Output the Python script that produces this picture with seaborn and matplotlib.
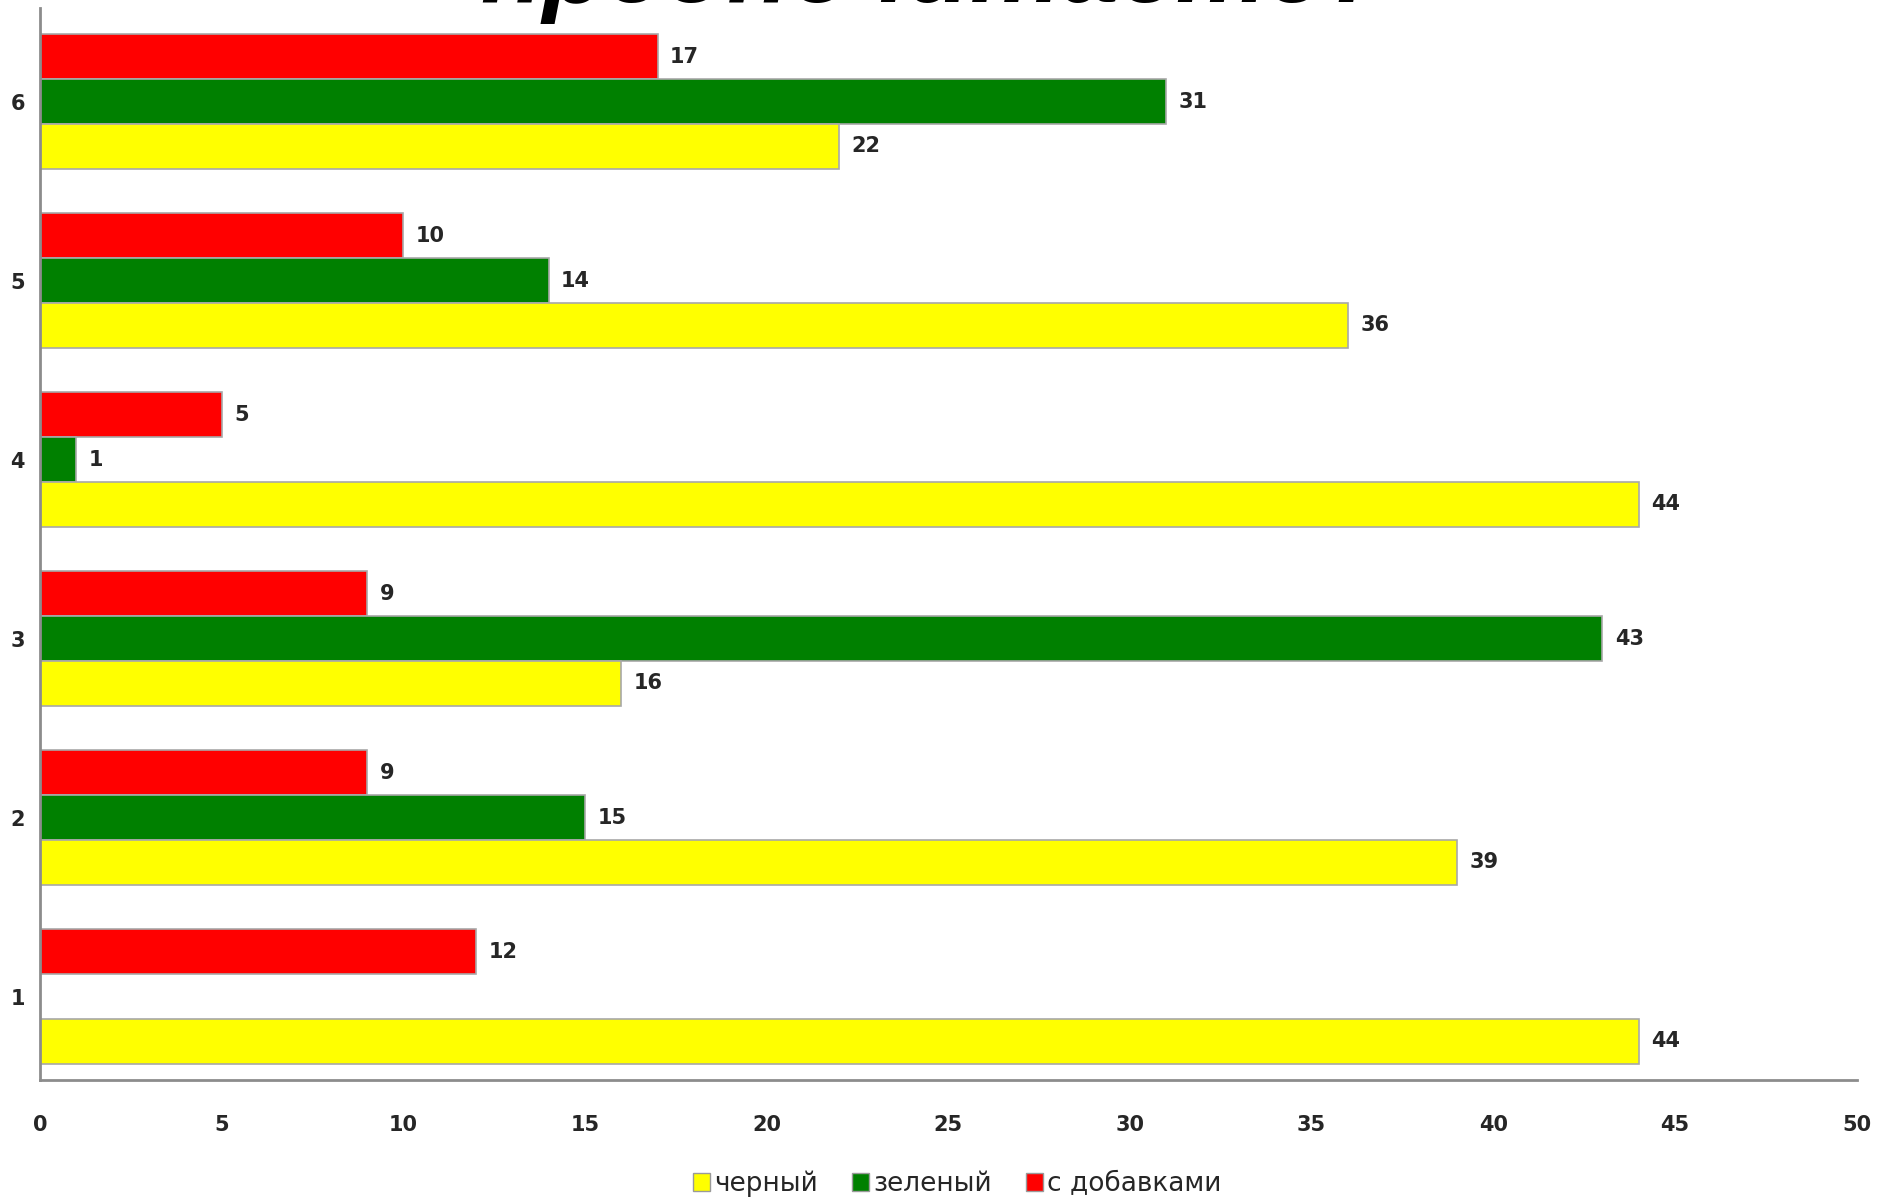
import numpy as np
import pandas as pd
import matplotlib
matplotlib.use("Agg")
import matplotlib.pyplot as plt
from matplotlib.patches import Patch
import seaborn as sns

# Survey answers per question number
categories = ["1", "2", "3", "4", "5", "6"]
black_tea = [44, 39, 16, 44, 36, 22]
green_tea = [np.nan, 15, 43, 1, 14, 31]
flavoured_tea = [12, 9, 9, 5, 10, 17]
series_names = ["черный", "зеленый", "с добавками"]
series_colors = {"черный": "#FFFF00", "зеленый": "#008000", "с добавками": "#FF0000"}
x_ticks = list(range(0, 51, 5))
title_text = "предпочитаете?"

rows = []
for name, vals in zip(series_names, [black_tea, green_tea, flavoured_tea]):
    for cat, v in zip(categories, vals):
        if not np.isnan(v):
            rows.append({"category": cat, "series": name, "value": v})
df = pd.DataFrame(rows)

sns.set_theme(style="white")
plt.rcParams["font.family"] = ["DejaVu Sans"]

fig = plt.figure(figsize=(18.81, 12.01), dpi=100)
ax = fig.add_axes([0.0213, 0.1007, 0.9657, 0.8923])

sns.barplot(
    data=df, x="value", y="category", hue="series",
    order=categories[::-1],
    hue_order=["с добавками", "зеленый", "черный"],
    palette=series_colors, saturation=1, orient="h", width=0.75, gap=0,
    edgecolor="#a8a8a8", linewidth=1.2, legend=False, ax=ax,
)

for cont in ax.containers:
    ax.bar_label(cont, labels=[f"{w:g}" for w in cont.datavalues],
                 padding=9, fontsize=15, fontweight="bold", color="#262626")

ax.set_xlim(0, 50)
ax.set_ylim(5.466, -0.52)
ax.set_xticks(x_ticks)
ax.set_xticklabels([str(t) for t in x_ticks], fontsize=15, fontweight="bold", color="#262626")
ax.tick_params(axis="x", length=0, pad=25)
ax.tick_params(axis="y", length=0, pad=11, labelsize=15)
for lbl in ax.get_yticklabels():
    lbl.set_fontweight("bold")
    lbl.set_color("#262626")
ax.set_xlabel("")
ax.set_ylabel("")
for side in ["top", "right"]:
    ax.spines[side].set_visible(False)
for side in ["left", "bottom"]:
    ax.spines[side].set_color("#8c8c8c")
    ax.spines[side].set_linewidth(2)

handles = [Patch(facecolor=series_colors[n], edgecolor="#9a9a9a", label=n) for n in series_names]
fig.legend(handles=handles, loc="center", bbox_to_anchor=(0.509, 0.014), ncol=3,
           frameon=False, fontsize=19, handlelength=0.65, handleheight=0.65,
           handletextpad=0.15, columnspacing=1.3)

fig.text(0.496, 0.998, title_text, ha="center", va="baseline",
         fontsize=74, fontweight="bold", fontstyle="italic",
         family=["Liberation Sans", "DejaVu Sans"], color="black")

fig.savefig("out.png", dpi=100)
